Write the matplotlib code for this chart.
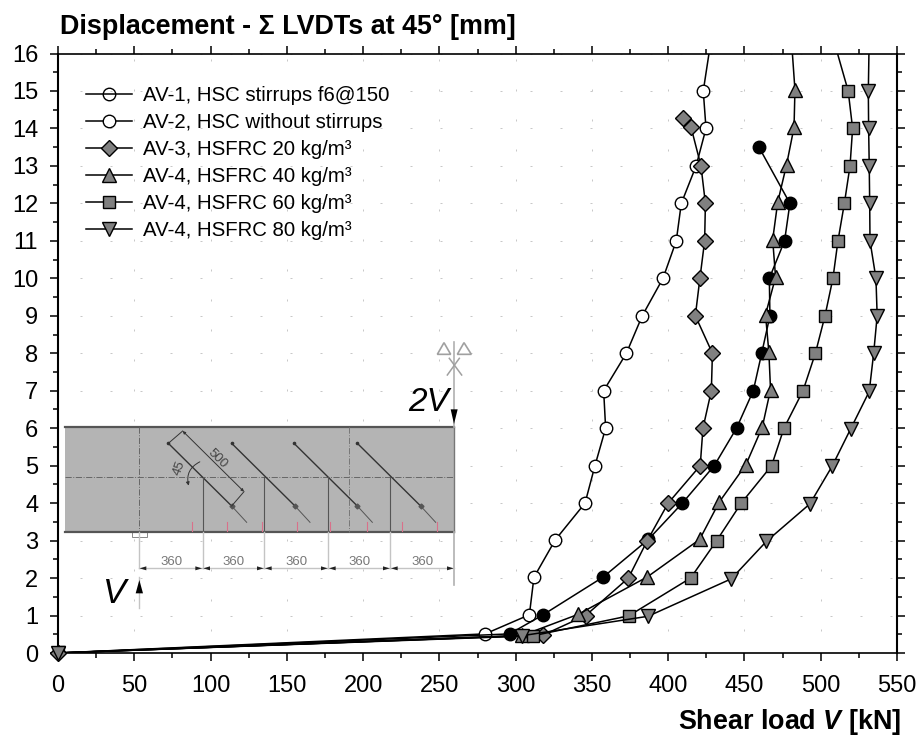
import matplotlib
matplotlib.use('Agg')
import matplotlib.pyplot as plt
from matplotlib.lines import Line2D
from matplotlib.patches import Rectangle, Polygon, FancyArrowPatch

plt.rcParams['font.family'] = ['Liberation Sans', 'DejaVu Sans']
plt.rcParams['mathtext.fontset'] = 'custom'
plt.rcParams['mathtext.rm'] = 'Liberation Sans'
plt.rcParams['mathtext.it'] = 'Liberation Sans:italic'
plt.rcParams['mathtext.bf'] = 'Liberation Sans:bold'
plt.rcParams['mathtext.bfit'] = 'Liberation Sans:italic:bold'

# shear load V [kN] against displacement [mm], last point of some runs is off the top
open_v = [0, 280, 309, 312, 326, 345.5, 352, 359, 357.7, 372.6, 383, 396.6, 405.3, 408.6, 418.3, 424.8, 423, 430.5]
open_d = [0, 0.51, 1.02, 2.02, 3.02, 4, 5, 6, 7, 8, 9, 10, 11, 12, 13, 14, 15, 17]

black_v = [0, 296, 318, 357.5, 387, 409.3, 430.2, 444.8, 455.8, 461.3, 466.7, 466.3, 476.3, 479.8, 459.5]
black_d = [0, 0.51, 1.02, 2.03, 3.03, 4, 5, 6, 7, 8, 9, 10, 11, 12, 13.5]

diamond_v = [0, 318, 345.9, 373.9, 386.3, 400, 421, 422.8, 428.3, 429, 417.8, 420.8, 423.9, 424.4, 421.5, 415, 409.5]
diamond_d = [0, 0.48, 1, 2, 3, 4, 5, 6, 7, 8, 9, 10, 11, 12, 13, 14.03, 14.28]

up_v = [0, 304.4, 340.9, 386.3, 420.6, 433.5, 451, 461.7, 467.1, 466, 463.8, 470.4, 468.5, 471.8, 477.6, 482.5, 483.1, 479.7]
up_d = [0, 0.47, 1.03, 2.03, 3.03, 4.03, 5.03, 6.03, 7.03, 8.03, 9.03, 10.03, 11.03, 12.03, 13.03, 14.03, 15.03, 17]

square_v = [0, 311.4, 374.1, 414.7, 431.8, 447.9, 467.8, 475.9, 488.4, 496.5, 502.8, 508, 511.3, 515.5, 519.2, 520.9, 518, 504]
square_d = [0, 0.46, 0.99, 2, 3, 4, 5, 6, 7, 8, 9, 10, 11, 12, 13, 14, 15, 17]

down_v = [0, 304, 386.8, 441.4, 464.4, 492.9, 507.4, 519.6, 531.8, 534.7, 537, 536.2, 532.3, 532.1, 531.8, 531.4, 531.2, 532]
down_d = [0, 0.46, 0.98, 1.98, 2.98, 3.98, 4.98, 5.98, 6.98, 8, 9, 10, 11, 12, 13, 14, 15, 17]

legend_labels = ['AV-1, HSC stirrups f6@150', 'AV-2, HSC without stirrups',
                 'AV-3, HSFRC 20 kg/m³', 'AV-4, HSFRC 40 kg/m³',
                 'AV-4, HSFRC 60 kg/m³', 'AV-4, HSFRC 80 kg/m³']

GREY = '#808080'

fig = plt.figure(figsize=(9.18, 7.38), dpi=100)
# axes box measured in pixels from the reference
ax = fig.add_axes([58 / 918, 1 - 653 / 738, (897 - 58) / 918, (653 - 53.5) / 738])

style = dict(color='black', lw=1.1, markeredgecolor='black', markeredgewidth=1.0)
ax.plot(open_v, open_d, marker='o', ms=9, markerfacecolor='white', **style)
ax.plot(black_v, black_d, marker='o', ms=9, markerfacecolor='black', **style)
ax.plot(diamond_v, diamond_d, marker='D', ms=8, markerfacecolor=GREY, **style)
ax.plot(up_v, up_d, marker='^', ms=10.5, markerfacecolor=GREY, **style)
ax.plot(square_v, square_d, marker='s', ms=8.5, markerfacecolor=GREY, **style)
ax.plot(down_v, down_d, marker='v', ms=10.5, markerfacecolor=GREY, **style)
# the shared first point sits on the axes corner, so it must not be clipped
ax.plot(0, 0, marker='D', ms=8, clip_on=False, zorder=5, markerfacecolor=GREY, markeredgecolor='black')
ax.plot(0, 0, marker='v', ms=10.5, clip_on=False, zorder=6, markerfacecolor=GREY, markeredgecolor='black')

ax.set_xlim(0, 550)
ax.set_ylim(0, 16)
ax.set_xticks(range(0, 551, 50))
ax.set_xticks(range(25, 551, 50), minor=True)
ax.set_yticks(range(0, 17))
ax.set_yticks([i + 0.5 for i in range(16)], minor=True)
ax.tick_params(which='major', direction='out', length=5.8, width=1.1, top=True, right=True,
               labelsize=17)
ax.tick_params(axis='x', which='major', pad=10)
ax.tick_params(axis='y', which='major', pad=8.5)
ax.tick_params(which='minor', direction='out', length=3.6, width=1.1, top=True, right=True)
for side in ax.spines.values():
    side.set_linewidth(1.2)
ax.spines['left'].set_linewidth(1.5)
ax.spines['right'].set_linewidth(1.5)
ax.patch.set_visible(False)

# very sparse dashes, about one every 30 px
ax.grid(True, which='major', color='#c8c8c8', lw=0.72, linestyle=(8, (2, 28)))
ax.set_axisbelow(True)

handles = [
    Line2D([], [], color='black', lw=1.1, marker='o', ms=9, markerfacecolor='none', markeredgecolor='black'),
    Line2D([], [], color='black', lw=1.1, marker='o', ms=9, markerfacecolor='white', markeredgecolor='black'),
    Line2D([], [], color='black', lw=1.1, marker='D', ms=8, markerfacecolor=GREY, markeredgecolor='black'),
    Line2D([], [], color='black', lw=1.1, marker='^', ms=10.5, markerfacecolor=GREY, markeredgecolor='black'),
    Line2D([], [], color='black', lw=1.1, marker='s', ms=8.5, markerfacecolor=GREY, markeredgecolor='black'),
    Line2D([], [], color='black', lw=1.1, marker='v', ms=10.5, markerfacecolor=GREY, markeredgecolor='black'),
]
ax.legend(handles, legend_labels, frameon=False, fontsize=14.7, numpoints=1, handlelength=2.26,
          handletextpad=0.54, labelspacing=0.39, loc='upper left',
          bbox_to_anchor=(27.7 / 839, 1 - 33 / 600), borderaxespad=0, borderpad=0)

fig.text(60 / 918, 1 - 27 / 738, 'Displacement - Σ LVDTs at 45° [mm]', fontsize=19.4,
         fontweight='bold', va='center', ha='left')
fig.text(901 / 918, 1 - 722 / 738, r'Shear load $\mathbfit{V}$ [kN]', fontsize=19.4,
         fontweight='bold', va='center', ha='right')

# beam sketch, drawn on a full figure overlay in pixel coordinates
sk = fig.add_axes([0, 0, 1, 1])
sk.set_xlim(0, 918)
sk.set_ylim(738, 0)
sk.axis('off')


def px(zx, zy):
    return 40 + zx / 3, 330 + zy / 3


def seg(p, q, **kw):
    a, b = px(*p), px(*q)
    sk.plot([a[0], b[0]], [a[1], b[1]], **kw)


x0, y0 = px(75, 291)
x1, y1 = px(1243, 605)
sk.add_patch(Rectangle((x0, y0), x1 - x0, y1 - y0, facecolor='#b4b4b4', edgecolor='none'))
seg((75, 291), (1243, 291), color='#555555', lw=1.6)
seg((75, 605), (1243, 605), color='#555555', lw=1.6)
seg((1243, 291), (1243, 605), color='#777777', lw=1.0)
seg((75, 440), (1243, 440), color='#666666', lw=0.7, linestyle='-.')
seg((297, 291), (297, 605), color='#666666', lw=0.7, linestyle='-.')
seg((928, 291), (928, 605), color='#777777', lw=0.7, linestyle='-.')

for start in [385, 575, 762, 952]:
    seg((start, 340), (start + 190, 528), color='#333333', lw=1.0)
    seg((start + 190, 528), (start + 235, 577), color='#555555', lw=0.7)
    a = px(start + 190, 528)
    sk.plot(a[0], a[1], marker='D', ms=2.5, color='#555555')
    b = px(start, 340)
    sk.plot(b[0], b[1], marker='o', ms=1.6, color='#333333')

for zx in [488, 673, 865, 1051]:
    seg((zx, 440), (zx, 605), color='#555555', lw=0.8)
    seg((zx, 605), (zx, 715), color='#c4c4c4', lw=1.0)
seg((297, 605), (297, 715), color='#c4c4c4', lw=1.0)
seg((297, 740), (297, 835), color='#c4c4c4', lw=1.0)
seg((1243, 35), (1243, 291), color='#b0b0b0', lw=1.2)
seg((1243, 605), (1243, 765), color='#b0b0b0', lw=1.2)

for zx in [455, 560, 665, 770, 870, 980, 1085, 1190]:
    seg((zx, 577), (zx, 603), color='#d9708a', lw=0.8)

sx, sy = px(277, 605)
sk.add_patch(Rectangle((sx, sy), 43 / 3, 17 / 3, facecolor='white', edgecolor='#888888', lw=0.7))

ends = [297, 488, 673, 865, 1051, 1243]
for a, b in zip(ends[:-1], ends[1:]):
    seg((a, 715), (b, 715), color='#c4c4c4', lw=1.0)
    # small black heads at both ends of each 360 dimension
    sk.add_patch(Polygon([px(a + 2, 715), px(a + 22, 709), px(a + 22, 721)], facecolor='#222222',
                         edgecolor='none', zorder=5))
    sk.add_patch(Polygon([px(b - 2, 715), px(b - 22, 709), px(b - 22, 721)], facecolor='#222222',
                         edgecolor='none', zorder=5))
    lx, ly = px((a + b) / 2 + 1, 697)
    sk.text(lx, ly, '360', fontsize=9.5, color='#777777', ha='center', va='center')

# 500 dimension and 45 degree mark on the first gauge
seg((385, 340), (428, 303), color='#333333', lw=0.7)
seg((575, 528), (612, 485), color='#333333', lw=0.7)
sk.add_patch(FancyArrowPatch(px(428, 303), px(612, 485), arrowstyle='<|-|>', mutation_scale=4,
                             color='#333333', lw=0.7, shrinkA=0, shrinkB=0))
lx, ly = px(532, 385)
sk.text(lx, ly, '500', fontsize=9.5, color='#444444', rotation=-45, ha='center', va='center')
lx, ly = px(418, 413)
sk.text(lx, ly, '45', fontsize=9.5, color='#444444', rotation=70, ha='center', va='center')
sk.add_patch(FancyArrowPatch(px(487, 392), px(448, 475), connectionstyle='arc3,rad=0.45',
                             arrowstyle='-|>', mutation_scale=5, color='#333333', lw=0.7))

sk.add_patch(Polygon([px(1232, 238), px(1253, 238), px(1242, 282)], facecolor='black',
                     edgecolor='none', zorder=5))
sk.add_patch(Polygon([px(287, 790), px(309, 790), px(298, 750)], facecolor='black',
                     edgecolor='none', zorder=5))
lx, ly = px(1166, 218)
sk.text(lx, ly, '2V', fontsize=24, style='italic', color='black', ha='center', va='center')
lx, ly = px(225, 790)
sk.text(lx, ly, 'V', fontsize=25, style='italic', color='black', ha='center', va='center')

# symmetry mark above the load
for tip, left, right in [(1212, 1192, 1232), (1272, 1252, 1294)]:
    sk.add_patch(Polygon([px(tip, 38), px(left, 73), px(right, 73)], facecolor='white',
                         edgecolor='#a0a0a0', lw=1.2))
seg((1222, 135), (1258, 85), color='#a0a0a0', lw=1.1)
seg((1265, 135), (1228, 85), color='#a0a0a0', lw=1.1)

fig.savefig('out.png', dpi=100)
